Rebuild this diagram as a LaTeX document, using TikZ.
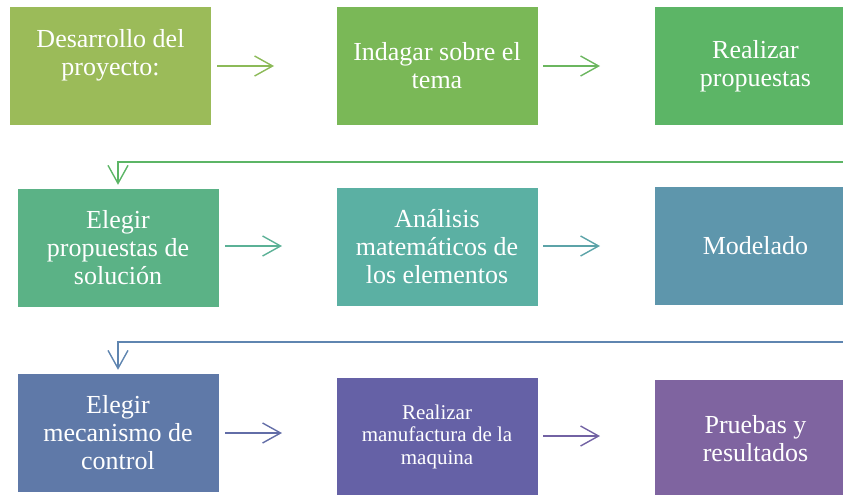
\documentclass[tikz,border=0pt]{standalone}
\usepackage{fontspec}
\setmainfont{Liberation Serif}
\usetikzlibrary{arrows.meta}
\definecolor{c1}{HTML}{9BBB59}
\definecolor{c2}{HTML}{7AB857}
\definecolor{c3}{HTML}{5CB566}
\definecolor{c4}{HTML}{5BB286}
\definecolor{c5}{HTML}{5BB0A3}
\definecolor{c6}{HTML}{5E96AC}
\definecolor{c7}{HTML}{5F79A8}
\definecolor{c8}{HTML}{6561A6}
\definecolor{c9}{HTML}{7F64A0}
\definecolor{a1}{HTML}{8CBA58}
\definecolor{a2}{HTML}{6BB65F}
\definecolor{a3}{HTML}{5BB196}
\definecolor{a4}{HTML}{5CA3A8}
\definecolor{a5}{HTML}{626DA7}
\definecolor{a6}{HTML}{7262A3}
\definecolor{l1}{HTML}{5CB566}
\definecolor{l2}{HTML}{5F85B0}
\tikzset{
  box/.style={rectangle, inner sep=0pt, minimum width=201pt, minimum height=118pt,
    text=white, align=center, font=\fontsize{26}{28}\selectfont},
  smallbox/.style={box, font=\fontsize{21}{22.5}\selectfont},
  flow/.style={line width=1.4pt, -{Straight Barb[length=18pt,width=20pt,line width=1.4pt]}},
}
\begin{document}
\begin{tikzpicture}[x=1pt,y=-1pt]
\useasboundingbox (0,0) rectangle (843,495);
\begin{scope}
\clip (0,0) rectangle (843,495);
% row 1
\node[box, fill=c1] (b1) at (110.5,66) {Desarrollo del\\proyecto:\\[-10pt]\strut};
\node[box, fill=c2] (b2) at (437,66) {Indagar sobre el\\tema};
\node[box, fill=c3] (b3) at (755.5,66) {Realizar\\propuestas};
% row 2
\node[box, fill=c4] (b4) at (118,248) {Elegir\\propuestas de\\solución};
\node[box, fill=c5] (b5) at (437,246.5) {Análisis\\matemáticos de\\los elementos};
\node[box, fill=c6] (b6) at (755.5,246) {Modelado};
% row 3
\node[box, fill=c7] (b7) at (118,433) {Elegir\\mecanismo de\\control};
\node[smallbox, fill=c8] (b8) at (437,436.5) {Realizar\\manufactura de la\\maquina};
\node[box, fill=c9] (b9) at (755.5,439) {Pruebas y\\resultados};
% arrows
\coordinate (s1) at (217,66);  \coordinate (e1) at (274,66);
\coordinate (s2) at (543,66);  \coordinate (e2) at (600,66);
\coordinate (s3) at (225,246); \coordinate (e3) at (282,246);
\coordinate (s4) at (543,246); \coordinate (e4) at (600,246);
\coordinate (s5) at (225,433); \coordinate (e5) at (282,433);
\coordinate (s6) at (543,436); \coordinate (e6) at (600,436);
\draw[flow, a1] (s1) -- (e1);
\draw[flow, a2] (s2) -- (e2);
\draw[flow, a3] (s3) -- (e3);
\draw[flow, a4] (s4) -- (e4);
\draw[flow, a5] (s5) -- (e5);
\draw[flow, a6] (s6) -- (e6);
% return connectors
\coordinate (r1) at (850,162);
\coordinate (r2) at (850,342);
\draw[flow, l1, shorten >=4pt] (r1) -| (b4.north);
\draw[flow, l2, shorten >=4pt] (r2) -| (b7.north);
\end{scope}
\end{tikzpicture}
\end{document}
